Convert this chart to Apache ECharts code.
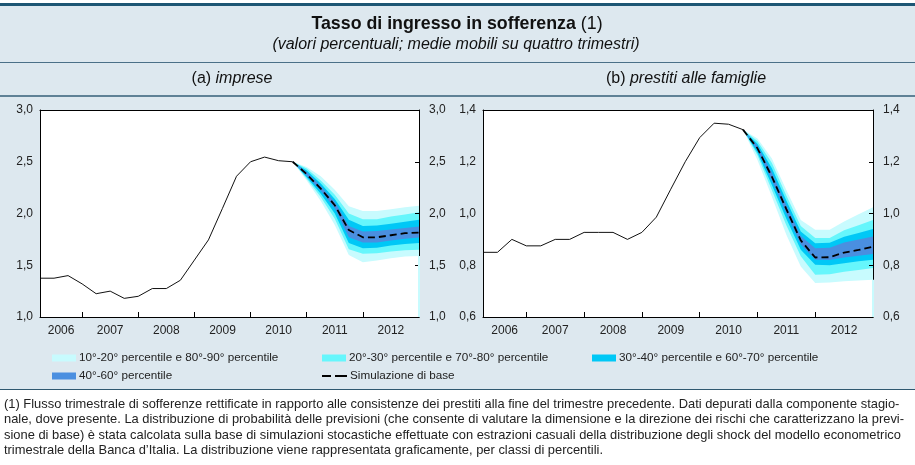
<!DOCTYPE html>
<html><head><meta charset="utf-8">
<script src="https://cdn.jsdelivr.net/npm/echarts@6/dist/echarts.min.js"></script>
<style>html,body{margin:0;padding:0;background:#fff}#c{width:915px;height:465px}</style>
</head><body><div id="c"></div>
<script>
// ---- tick labels / axis positions (quarter index: 0 = 2006 T1 ... 27 = 2012 T4)
const yearLabels   = ['2006','2007','2008','2009','2010','2011','2012'];
const yearLabelPos = [1.5, 5, 9, 13, 17, 21, 25];
const yearTickPos  = [3, 7, 11, 15, 19, 23];
const forecastStart = 18;

// ---- (a) imprese
const impreseActual = [1.375,1.375,1.40,1.32,1.225,1.25,1.18,1.20,1.275,1.275,1.355,1.55,1.745,2.05,2.36,2.50,2.545,2.51,2.50];
const impreseBase = [2.50,2.38,2.24,2.08,1.84,1.77,1.77,1.79,1.81,1.815];
const impreseP90 = [2.50,2.45,2.36,2.23,2.07,2.025,2.025,2.04,2.06,2.074];
const impreseP80 = [2.50,2.435,2.32,2.18,2.00,1.945,1.945,1.97,1.99,2.013];
const impreseP70 = [2.50,2.415,2.29,2.14,1.94,1.88,1.885,1.90,1.92,1.94];
const impreseP60 = [2.50,2.40,2.265,2.11,1.88,1.825,1.83,1.845,1.86,1.875];
const impreseP40 = [2.50,2.365,2.22,2.05,1.77,1.72,1.72,1.74,1.755,1.768];
const impreseP30 = [2.50,2.35,2.19,2.00,1.715,1.665,1.67,1.69,1.705,1.714];
const impreseP20 = [2.50,2.335,2.16,1.95,1.655,1.61,1.615,1.633,1.645,1.65];
const impreseP10 = [2.50,2.32,2.12,1.89,1.60,1.53,1.545,1.568,1.584,1.59];

// ---- (b) prestiti alle famiglie
const famiglieActual = [0.85,0.85,0.90,0.875,0.875,0.90,0.90,0.927,0.927,0.927,0.90,0.927,0.986,1.094,1.20,1.293,1.349,1.345,1.324];
const famiglieBase = [1.324,1.252,1.142,1.017,0.896,0.830,0.831,0.849,0.859,0.872];
const famiglieP90 = [1.324,1.29,1.213,1.091,0.975,0.937,0.937,0.969,0.997,1.024];
const famiglieP80 = [1.324,1.28,1.195,1.07,0.952,0.905,0.905,0.935,0.955,0.975];
const famiglieP70 = [1.324,1.27,1.175,1.05,0.93,0.885,0.887,0.91,0.925,0.94];
const famiglieP60 = [1.324,1.262,1.158,1.033,0.913,0.866,0.868,0.888,0.90,0.911];
const famiglieP40 = [1.324,1.245,1.128,1.0,0.88,0.821,0.82,0.83,0.837,0.843];
const famiglieP30 = [1.324,1.235,1.11,0.98,0.86,0.802,0.80,0.808,0.815,0.821];
const famiglieP20 = [1.324,1.225,1.09,0.955,0.835,0.763,0.765,0.775,0.782,0.789];
const famiglieP10 = [1.324,1.207,1.065,0.918,0.795,0.731,0.733,0.738,0.741,0.744];

const legendNames = ['10°-20° percentile e 80°-90° percentile','20°-30° percentile e 70°-80° percentile','30°-40° percentile e 60°-70° percentile','40°-60° percentile','Simulazione di base'];
const footnote = [
 '(1) Flusso trimestrale di sofferenze rettificate in rapporto alle consistenze dei prestiti alla fine del trimestre precedente. Dati depurati dalla componente stagio-',
 'nale, dove presente. La distribuzione di probabilità delle previsioni (che consente di valutare la dimensione e la direzione dei rischi che caratterizzano la previ-',
 'sione di base) è stata calcolata sulla base di simulazioni stocastiche effettuate con estrazioni casuali della distribuzione degli shock del modello econometrico',
 'trimestrale della Banca d’Italia. La distribuzione viene rappresentata graficamente, per classi di percentili.'
];

const FONT = 'Liberation Sans, Arial, Helvetica, sans-serif';
const C_PALE = '#c8fbfe', C_BRIGHT = '#66f6fc', C_DEEP = '#00c8f6', C_BLUE = '#4a8fe0';

const pairs = (arr, start) => arr.map((v, i) => [start + i, v]);
const comma = v => v.toFixed(1).replace('.', ',');

const panels = [
  {actual: impreseActual, base: impreseBase, bands: [impreseP90,impreseP80,impreseP70,impreseP60,impreseP40,impreseP30,impreseP20,impreseP10], min: 1.0, max: 3.0, interval: 0.5},
  {actual: famiglieActual, base: famiglieBase, bands: [famiglieP90,famiglieP80,famiglieP70,famiglieP60,famiglieP40,famiglieP30,famiglieP20,famiglieP10], min: 0.6, max: 1.4, interval: 0.2}
];
const grids = [
  {left: 40, top: 110, width: 379, height: 207, show: true, backgroundColor: '#fff', borderWidth: 0},
  {left: 483, top: 110, width: 390, height: 207, show: true, backgroundColor: '#fff', borderWidth: 0}
];
const xMax = forecastStart + impreseBase.length - 1;

const xAxes = [], yAxes = [], series = [];
panels.forEach((p, g) => {
  xAxes.push({type: 'value', gridIndex: g, min: 0, max: xMax, position: 'bottom', z: 10,
    axisLine: {show: true, onZero: false, lineStyle: {color: '#000', width: 1}},
    axisTick: {show: true, inside: true, length: 5, customValues: yearTickPos, lineStyle: {color: '#000'}},
    axisLabel: {customValues: yearLabelPos, formatter: v => yearLabels[yearLabelPos.indexOf(v)] || '', margin: 8, color: '#222', fontSize: 12, fontFamily: FONT},
    splitLine: {show: false}});
  xAxes.push({type: 'value', gridIndex: g, min: 0, max: xMax, position: 'top', z: 10,
    axisLine: {show: true, onZero: false, lineStyle: {color: '#000', width: 1}},
    axisTick: {show: false}, axisLabel: {show: false}, splitLine: {show: false}});
  yAxes.push({type: 'value', gridIndex: g, min: p.min, max: p.max, interval: p.interval, position: 'left', z: 10,
    axisLine: {show: true, onZero: false, lineStyle: {color: '#000', width: 1}},
    axisTick: {show: false},
    axisLabel: {formatter: comma, margin: 7, color: '#222', fontSize: 12, fontFamily: FONT},
    splitLine: {show: false}});
  yAxes.push({type: 'value', gridIndex: g, min: p.min, max: p.max, interval: p.interval, position: 'right', z: 10,
    axisLine: {show: true, onZero: false, lineStyle: {color: '#000', width: 1}},
    axisTick: {show: true, inside: true, length: 4, lineStyle: {color: '#000'}},
    axisLabel: {formatter: comma, margin: 10, color: '#222', fontSize: 12, fontFamily: FONT},
    splitLine: {show: false}});
  const xi = 2 * g, yi = 2 * g;
  const layerColors = [C_PALE, C_BRIGHT, C_DEEP, C_BLUE, C_DEEP, C_BRIGHT, C_PALE, '#ffffff'];
  const layerNames = [legendNames[0], legendNames[1], legendNames[2], legendNames[3], legendNames[2], legendNames[1], legendNames[0], 'inferiore'];
  const p10 = p.bands[7];
  p.bands.forEach((arr, k) => {
    const s = {type: 'line', name: layerNames[k], xAxisIndex: xi, yAxisIndex: yi, data: pairs(arr, forecastStart),
      symbol: 'none', color: layerColors[k], lineStyle: {width: 0, color: layerColors[k]},
      areaStyle: {color: layerColors[k], opacity: 1, origin: 'start'}, z: 2, silent: true, animation: false};
    if (k === 7) {
      // pale edge below the fan on the right border (as in the original)
      s.markLine = {silent: true, symbol: 'none', z: 20, label: {show: false}, animation: false,
        lineStyle: {color: C_PALE, width: 2, type: 'solid'},
        data: [[{coord: [xMax, arr[arr.length - 1]]}, {coord: [xMax, p.min]}]]};
    }
    if (k === 6) {
      // hide anti-aliasing seam on the fan's left edge
      s.markLine = {silent: true, symbol: 'none', z: 3, label: {show: false}, animation: false,
        lineStyle: {color: '#ffffff', width: 2, type: 'solid'},
        data: [[{coord: [forecastStart, p10[0]]}, {coord: [forecastStart, p.min]}]]};
    }
    series.push(s);
  });
  series.push({type: 'line', name: 'effettivo', xAxisIndex: xi, yAxisIndex: yi, data: pairs(p.actual, 0),
    symbol: 'none', color: '#111', lineStyle: {width: 1, color: '#111'}, z: 4, silent: true, animation: false});
  series.push({type: 'line', name: legendNames[4], xAxisIndex: xi, yAxisIndex: yi, data: pairs(p.base, forecastStart),
    symbol: 'none', color: '#000', lineStyle: {width: 1.8, color: '#000', type: [7, 4]}, z: 5, silent: true, animation: false});
});

const legendPos = [[52, 352], [322, 352], [592, 352], [52, 370], [322, 370]];
const legends = legendNames.map((n, i) => {
  const l = {data: [n], left: legendPos[i][0], top: legendPos[i][1], padding: 0, itemGap: 0,
    itemWidth: 24, itemHeight: 7, icon: 'rect', selectedMode: false,
    itemStyle: {borderWidth: 0},
    textStyle: {color: '#222', fontSize: 11.7, fontFamily: FONT, padding: [0, 0, 0, -2]}};
  if (i === 4) { l.icon = 'path://M0,0H9V2H0Z M13,0H25V2H13Z'; l.itemWidth = 25; l.itemHeight = 2; }
  return l;
});

const graphic = [
  {type: 'rect', z: -10, shape: {x: 0, y: 5, width: 915, height: 384}, style: {fill: '#dde8ef'}, silent: true},
  {type: 'rect', z: -5, shape: {x: 0, y: 3, width: 915, height: 3}, style: {fill: '#1d5674'}, silent: true},
  {type: 'rect', z: -5, shape: {x: 0, y: 62, width: 915, height: 1}, style: {fill: '#4a7088'}, silent: true},
  {type: 'rect', z: -5, shape: {x: 0, y: 95, width: 915, height: 2}, style: {fill: '#5f8196'}, silent: true},
  {type: 'rect', z: -5, shape: {x: 0, y: 389, width: 915, height: 1}, style: {fill: '#2f5870'}, silent: true},
  {type: 'text', silent: true, style: {x: 457, y: 24, textAlign: 'center', align: 'center', textVerticalAlign: 'middle', verticalAlign: 'middle',
    text: '{b|Tasso di ingresso in sofferenza}{n| (1)}',
    rich: {b: {fontWeight: 'bold', fontSize: 17.8, fontFamily: FONT, fill: '#111'}, n: {fontSize: 17.8, fontFamily: FONT, fill: '#111'}}}},
  {type: 'text', silent: true, style: {x: 456, y: 45, textAlign: 'center', align: 'center', textVerticalAlign: 'middle', verticalAlign: 'middle',
    text: '(valori percentuali; medie mobili su quattro trimestri)', font: 'italic 16px ' + FONT, fill: '#111'}},
  {type: 'text', silent: true, style: {x: 232, y: 79, textAlign: 'center', align: 'center', textVerticalAlign: 'middle', verticalAlign: 'middle',
    text: '{n|(a) }{i|imprese}',
    rich: {n: {fontSize: 16, fontFamily: FONT, fill: '#111'}, i: {fontSize: 16, fontStyle: 'italic', fontFamily: FONT, fill: '#111'}}}},
  {type: 'text', silent: true, style: {x: 686, y: 79, textAlign: 'center', align: 'center', textVerticalAlign: 'middle', verticalAlign: 'middle',
    text: '{n|(b) }{i|prestiti alle famiglie}',
    rich: {n: {fontSize: 16, fontFamily: FONT, fill: '#111'}, i: {fontSize: 16, fontStyle: 'italic', fontFamily: FONT, fill: '#111'}}}}
];
footnote.forEach((t, i) => {
  graphic.push({type: 'text', silent: true, style: {x: 4, y: 404 + i * 15.5, textAlign: 'left', align: 'left', textVerticalAlign: 'middle', verticalAlign: 'middle',
    text: t, font: '12.9px ' + FONT, fill: '#222'}});
});

const chart = echarts.init(document.getElementById('c'), null, {renderer: 'canvas'});
chart.setOption({
  animation: false,
  backgroundColor: '#fff',
  grid: grids,
  xAxis: xAxes,
  yAxis: yAxes,
  legend: legends,
  graphic: graphic,
  series: series
});
</script></body></html>
